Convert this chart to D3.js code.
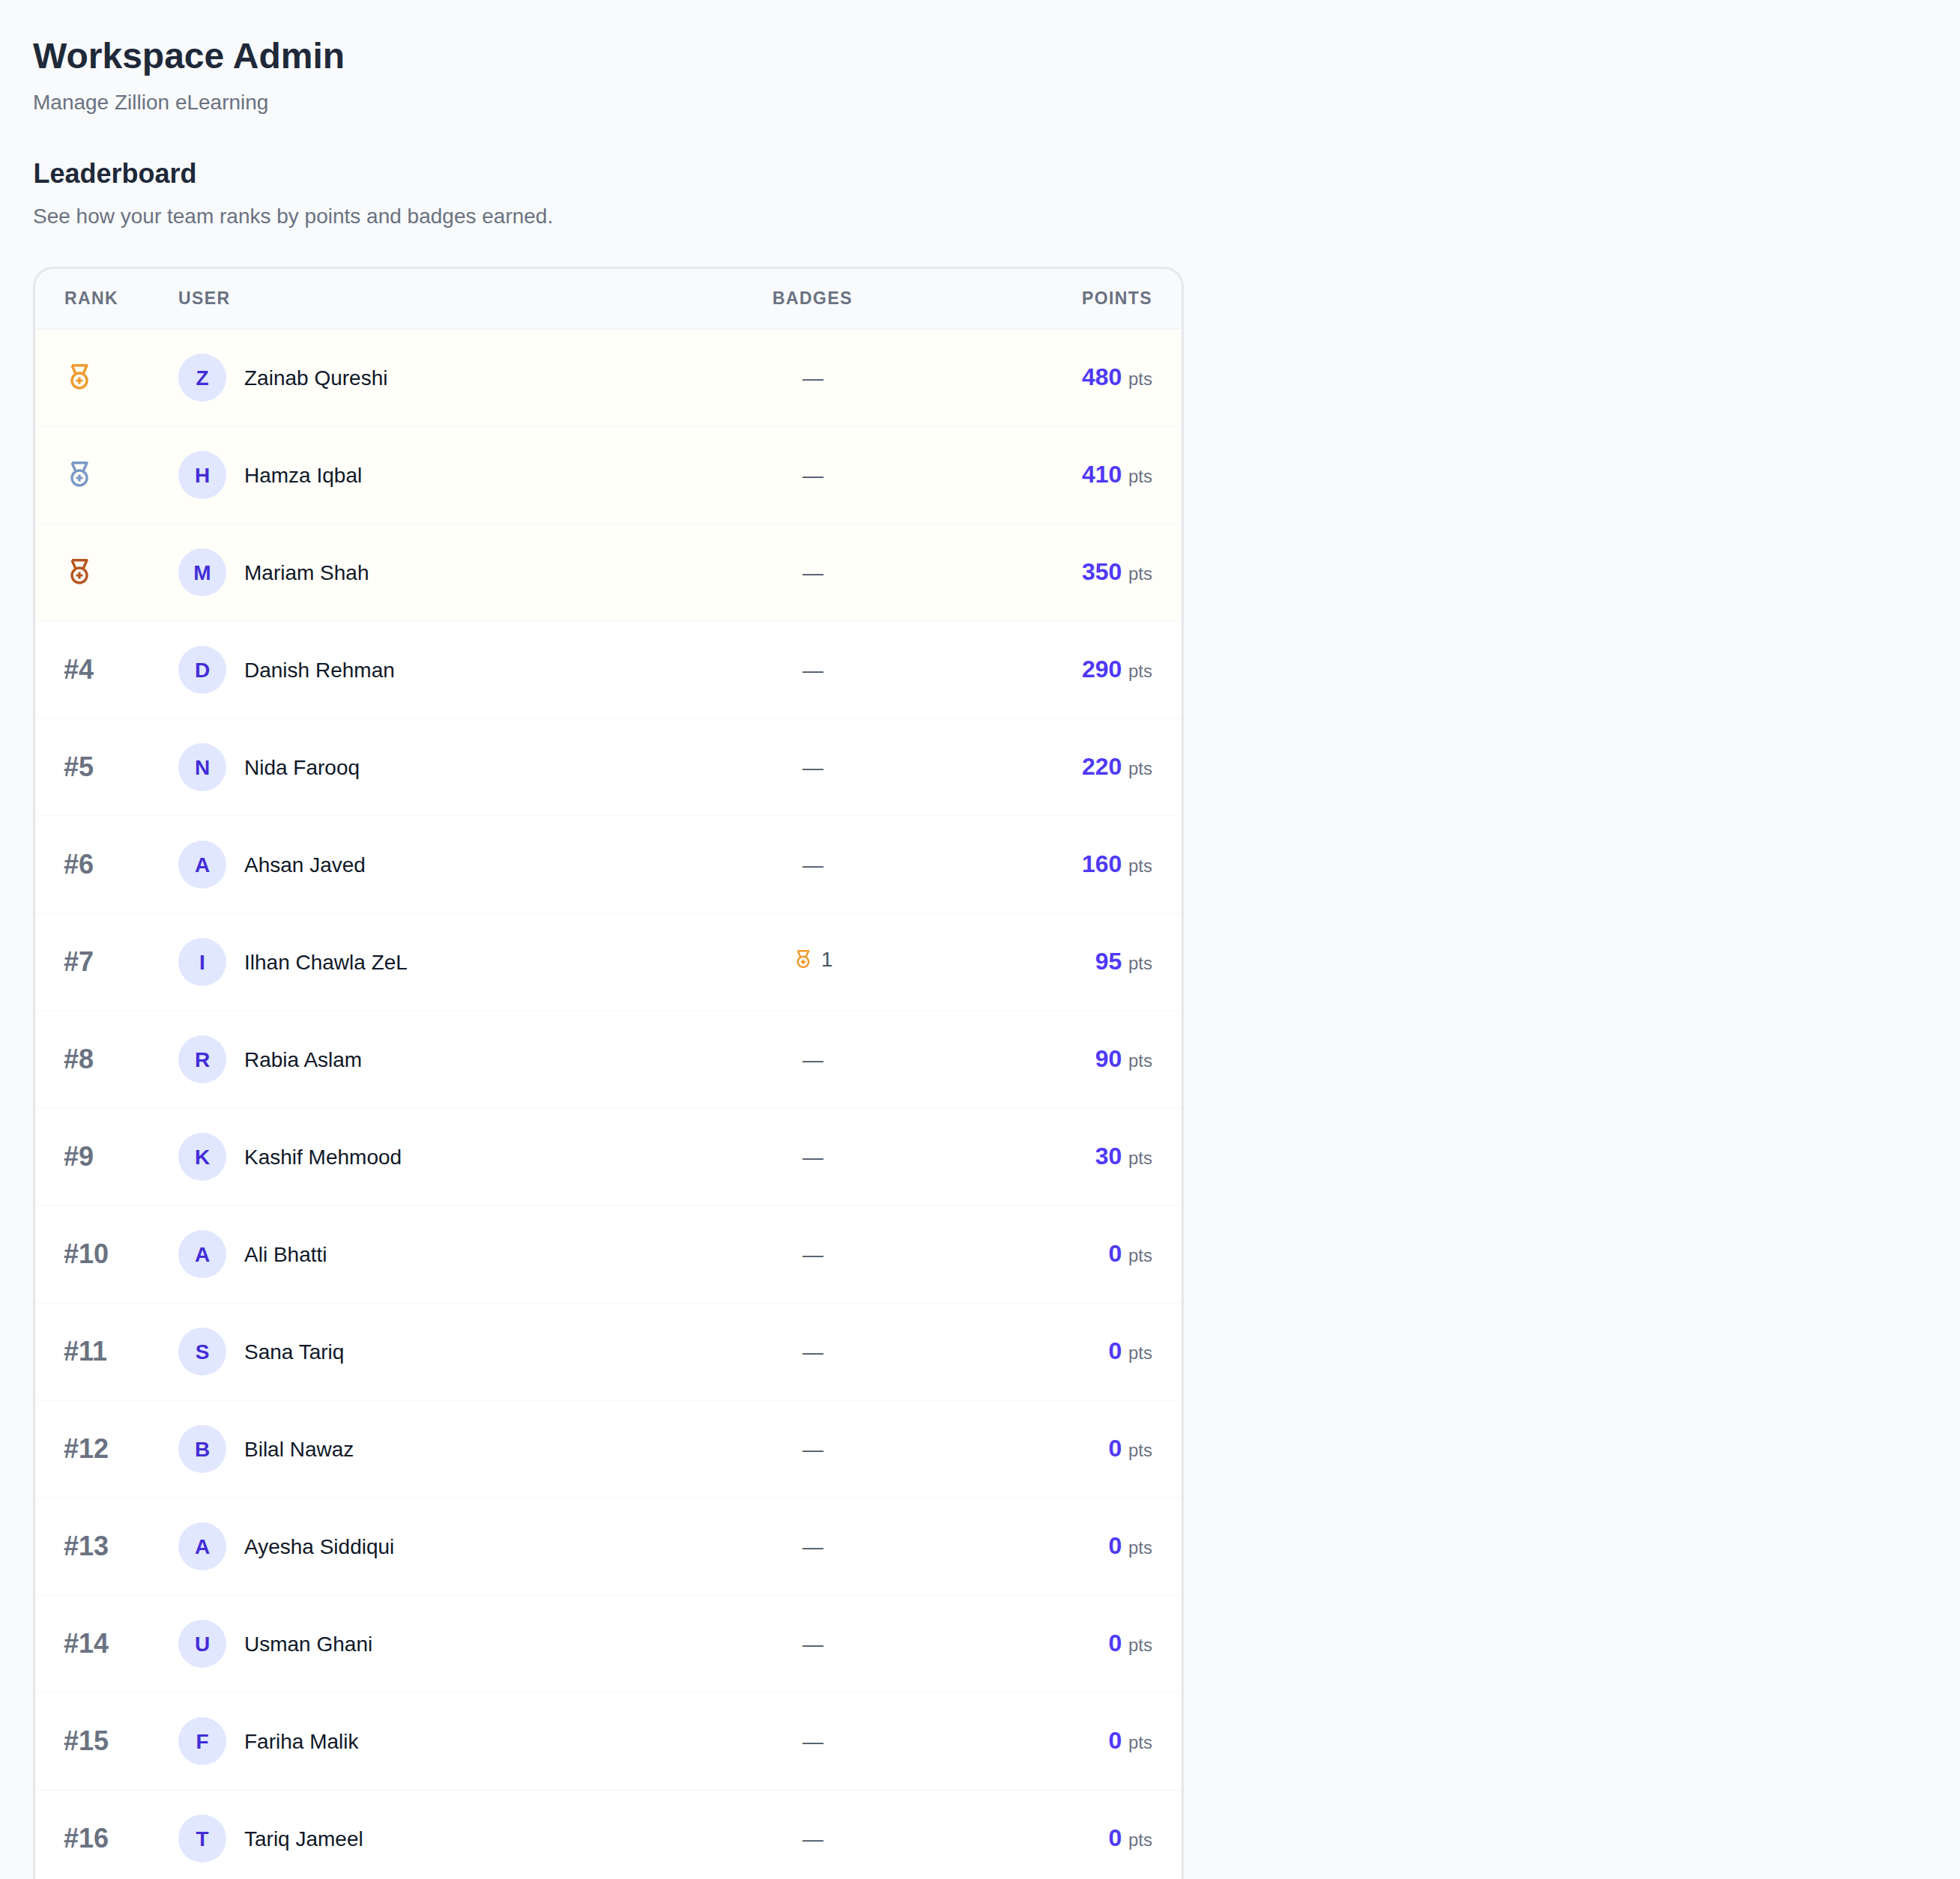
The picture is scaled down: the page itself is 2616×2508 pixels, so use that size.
<!DOCTYPE html>
<html>
<head>
<meta charset="utf-8">
<script src="https://cdn.jsdelivr.net/npm/d3@7"></script>
<style>
  html, body { margin: 0; padding: 0; background: #f9fafb; overflow: hidden; }
  text { font-family: "Liberation Sans", Arial, sans-serif; }
</style>
</head>
<body>
<script>
var ranks = d3.range(1, 17);
var names = ["Zainab Qureshi", "Hamza Iqbal", "Mariam Shah", "Danish Rehman", "Nida Farooq", "Ahsan Javed",
  "Ilhan Chawla ZeL", "Rabia Aslam", "Kashif Mehmood", "Ali Bhatti", "Sana Tariq", "Bilal Nawaz",
  "Ayesha Siddiqui", "Usman Ghani", "Fariha Malik", "Tariq Jameel"];
var points = [480, 410, 350, 290, 220, 160, 95, 90, 30, 0, 0, 0, 0, 0, 0, 0];
var badges = [0, 0, 0, 0, 0, 0, 1, 0, 0, 0, 0, 0, 0, 0, 0, 0];
var headers = ["RANK", "USER", "BADGES", "POINTS"];
var medalColors = ["#f09a2e", "#7a98c6", "#b5561f"];

var width = 2616, height = 2508;
var card = {left: 45.5, right: 1578.5, top: 357.5, head: 439};

var svg = d3.select("body").append("svg")
    .attr("width", width)
    .attr("height", height)
    .style("display", "block");

var yScale = d3.scaleBand().domain(ranks).range([card.head, card.head + 130 * ranks.length]);
var rowMid = d => yScale(d) + yScale.bandwidth() / 2;

// page headings
function label(sel, x, y, txt, size, weight, fill, anchor) {
  return sel.append("text").attr("x", x).attr("y", y).text(txt)
    .attr("font-size", size).attr("font-weight", weight).attr("fill", fill)
    .attr("text-anchor", anchor || "start");
}
label(svg, 44, 91, "Workspace Admin", 48, 700, "#1e2939");
label(svg, 44, 146, "Manage Zillion eLearning", 28, 400, "#6a7282");
label(svg, 44.5, 244, "Leaderboard", 36, 700, "#1e2939");
label(svg, 44, 298, "See how your team ranks by points and badges earned.", 28, 400, "#6a7282");

// card
var clipId = "card-clip";
svg.append("clipPath").attr("id", clipId).append("rect")
    .attr("x", card.left).attr("y", card.top)
    .attr("width", card.right - card.left).attr("height", 2400).attr("rx", 25);

var body = svg.append("g").attr("clip-path", `url(#${clipId})`);
body.append("rect").attr("x", card.left).attr("y", card.top)
    .attr("width", card.right - card.left).attr("height", 2400).attr("fill", "#fff");
body.append("rect").attr("x", card.left).attr("y", card.top)
    .attr("width", card.right - card.left).attr("height", card.head - card.top).attr("fill", "#f9fafb");

var rows = body.selectAll(".row").data(ranks).enter().append("g").attr("class", "row");
rows.append("rect")
    .attr("x", card.left).attr("width", card.right - card.left)
    .attr("y", d => yScale(d)).attr("height", yScale.bandwidth())
    .attr("fill", d => d <= 3 ? "#fffef9" : "#fff");
rows.append("rect")
    .attr("x", card.left).attr("width", card.right - card.left)
    .attr("y", d => yScale(d) - 1).attr("height", 2)
    .attr("fill", d => d == 1 ? "#f3f4f6" : "#f9fafb");

svg.append("rect").attr("x", card.left).attr("y", card.top)
    .attr("width", card.right - card.left).attr("height", 2400).attr("rx", 25)
    .attr("fill", "none").attr("stroke", "#e5e7eb").attr("stroke-width", 3);

// header labels
var headerX = [86, 238, 1084.5, 1538], headerAnchor = ["start", "start", "middle", "end"];
headers.forEach(function(h, i) {
  label(svg, headerX[i], 406, h, 23, 700, "#6a7282", headerAnchor[i]).attr("letter-spacing", 1.4);
});

// medal glyph drawn around its own centre
function medal(sel, cx, cy, color, k) {
  var g = sel.append("g").attr("transform", `translate(${cx},${cy}) scale(${k})`)
    .attr("fill", "none").attr("stroke", color).attr("stroke-width", 3.4).attr("stroke-linejoin", "round");
  g.append("path").attr("d", "M-10,-16.3 H10 L5.5,-6 M-10,-16.3 L-5.5,-6");
  g.append("circle").attr("cx", 0).attr("cy", 4).attr("r", 10);
  g.append("path").attr("d", "M0,-0.5 V8.5 M-4.5,4 H4.5").attr("stroke-width", 3.2);
}

ranks.forEach(function(r, i) {
  var y = rowMid(r);
  if (r <= 3) {
    medal(svg, 106, y, medalColors[i], 1);
  } else {
    label(svg, 85, y + 12, "#" + r, 36, 700, "#6a7282");
  }
  svg.append("circle").attr("cx", 270).attr("cy", y).attr("r", 32).attr("fill", "#e0e7ff");
  label(svg, 270, y + 10, names[i][0], 28, 700, "#432dd7", "middle");
  label(svg, 326, y + 10, names[i], 28, 400, "#101828");

  if (badges[i]) {
    medal(svg, 1072, y - 3, medalColors[0], 0.72);
    label(svg, 1096, y + 6, badges[i], 28, 400, "#4a5565");
  } else {
    label(svg, 1085, y + 10, "—", 28, 400, "#4a5565", "middle");
  }

  var pts = svg.append("text").attr("x", 1538).attr("y", y + 10).attr("text-anchor", "end");
  pts.append("tspan").text(points[i]).attr("font-size", 32).attr("font-weight", 700).attr("fill", "#4f39f6");
  pts.append("tspan").text(" pts").attr("dx", 2).attr("font-size", 24).attr("font-weight", 400).attr("fill", "#6a7282");
});
</script>
</body>
</html>
